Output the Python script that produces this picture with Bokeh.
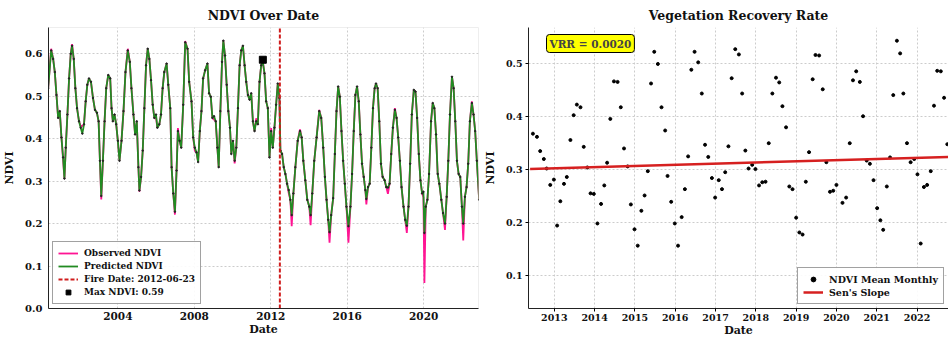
from bokeh.plotting import figure
from bokeh.layouts import row
from bokeh.models import Range1d, Legend, LegendItem, Label, NumeralTickFormatter, FixedTicker
from bokeh.embed import file_html
from bokeh.resources import INLINE

# ---------------- data: left panel (decimal years) ----------------
dates = [
    2000.353, 2000.509, 2000.613, 2000.700, 2000.787, 2000.874, 2000.960, 2001.047, 2001.134, 2001.204,
    2001.273, 2001.360, 2001.447, 2001.533, 2001.603, 2001.690, 2001.776, 2001.863, 2001.967, 2002.054,
    2002.141, 2002.228, 2002.315, 2002.401, 2002.488, 2002.592, 2002.697, 2002.801, 2002.905, 2002.992,
    2003.061, 2003.131, 2003.217, 2003.304, 2003.391, 2003.495, 2003.599, 2003.669, 2003.738, 2003.825,
    2003.912, 2003.999, 2004.085, 2004.190, 2004.294, 2004.398, 2004.519, 2004.624, 2004.710, 2004.815,
    2004.901, 2004.988, 2005.075, 2005.127, 2005.214, 2005.301, 2005.387, 2005.474, 2005.561, 2005.648,
    2005.735, 2005.822, 2005.908, 2005.995, 2006.065, 2006.169, 2006.256, 2006.342, 2006.429, 2006.551,
    2006.637, 2006.742, 2006.811, 2006.898, 2006.985, 2007.071, 2007.141, 2007.228, 2007.315, 2007.419,
    2007.523, 2007.644, 2007.731, 2007.853, 2007.940, 2008.026, 2008.113, 2008.200, 2008.287, 2008.374,
    2008.460, 2008.565, 2008.686, 2008.773, 2008.860, 2008.947, 2009.033, 2009.120, 2009.207, 2009.276,
    2009.363, 2009.450, 2009.519, 2009.606, 2009.693, 2009.780, 2009.867, 2009.936, 2010.023, 2010.110,
    2010.197, 2010.283, 2010.370, 2010.457, 2010.544, 2010.630, 2010.717, 2010.804, 2010.891, 2010.978,
    2011.065, 2011.151, 2011.238, 2011.325, 2011.412, 2011.499, 2011.585, 2011.672, 2011.759, 2011.846,
    2011.933, 2012.019, 2012.106, 2012.193, 2012.280, 2012.367, 2012.453, 2012.505, 2012.592, 2012.679,
    2012.766, 2012.853, 2012.939, 2013.026, 2013.096, 2013.183, 2013.287, 2013.408, 2013.530, 2013.617,
    2013.704, 2013.808, 2013.912, 2014.016, 2014.085, 2014.172, 2014.276, 2014.398, 2014.537, 2014.641,
    2014.745, 2014.832, 2014.919, 2015.006, 2015.075, 2015.162, 2015.266, 2015.353, 2015.440, 2015.526,
    2015.613, 2015.700, 2015.787, 2015.874, 2015.960, 2016.065, 2016.169, 2016.255, 2016.342, 2016.429,
    2016.516, 2016.603, 2016.690, 2016.776, 2016.863, 2016.950, 2017.002, 2017.089, 2017.176, 2017.263,
    2017.349, 2017.436, 2017.506, 2017.592, 2017.679, 2017.766, 2017.853, 2017.957, 2018.044, 2018.130,
    2018.217, 2018.304, 2018.391, 2018.495, 2018.582, 2018.669, 2018.756, 2018.842, 2018.947, 2019.034,
    2019.120, 2019.207, 2019.294, 2019.381, 2019.485, 2019.572, 2019.659, 2019.745, 2019.832, 2019.919,
    2019.988, 2020.040, 2020.110, 2020.197, 2020.283, 2020.387, 2020.474, 2020.561, 2020.648, 2020.734,
    2020.821, 2020.926, 2021.012, 2021.117, 2021.204, 2021.290, 2021.377, 2021.481, 2021.568, 2021.655,
    2021.742, 2021.829, 2021.915, 2022.002, 2022.072, 2022.159, 2022.245, 2022.332, 2022.419, 2022.523,
    2022.610, 2022.696, 2022.783, 2022.905,
]
predicted_ndvi = [
    0.519, 0.608, 0.588, 0.557, 0.503, 0.449, 0.465, 0.403, 0.356, 0.306,
    0.379, 0.457, 0.542, 0.600, 0.619, 0.588, 0.519, 0.472, 0.441, 0.426,
    0.412, 0.434, 0.488, 0.527, 0.542, 0.534, 0.496, 0.468, 0.461, 0.441,
    0.348, 0.265, 0.348, 0.441, 0.519, 0.550, 0.542, 0.472, 0.441, 0.457,
    0.434, 0.395, 0.348, 0.395, 0.465, 0.557, 0.608, 0.581, 0.519, 0.457,
    0.410, 0.441, 0.333, 0.278, 0.310, 0.372, 0.472, 0.573, 0.612, 0.588,
    0.538, 0.480, 0.449, 0.457, 0.426, 0.434, 0.457, 0.519, 0.557, 0.577,
    0.527, 0.472, 0.333, 0.271, 0.228, 0.325, 0.418, 0.395, 0.379, 0.480,
    0.627, 0.612, 0.534, 0.488, 0.403, 0.379, 0.368, 0.345, 0.418, 0.465,
    0.542, 0.561, 0.577, 0.507, 0.499, 0.449, 0.453, 0.441, 0.379, 0.333,
    0.465, 0.581, 0.631, 0.596, 0.527, 0.465, 0.426, 0.364, 0.395, 0.348,
    0.379, 0.472, 0.573, 0.608, 0.619, 0.573, 0.534, 0.503, 0.492, 0.507,
    0.441, 0.418, 0.441, 0.434, 0.534, 0.573, 0.581, 0.554, 0.488, 0.472,
    0.356, 0.418, 0.379, 0.426, 0.480, 0.530, 0.496, 0.372, 0.364, 0.333,
    0.317, 0.294, 0.279, 0.256, 0.220, 0.271, 0.333, 0.395, 0.418, 0.403,
    0.348, 0.302, 0.256, 0.240, 0.220, 0.271, 0.348, 0.403, 0.465, 0.449,
    0.379, 0.310, 0.256, 0.209, 0.180, 0.220, 0.260, 0.364, 0.465, 0.523,
    0.499, 0.418, 0.348, 0.294, 0.240, 0.194, 0.240, 0.317, 0.418, 0.503,
    0.523, 0.488, 0.410, 0.341, 0.310, 0.279, 0.258, 0.286, 0.294, 0.379,
    0.472, 0.519, 0.530, 0.519, 0.441, 0.341, 0.310, 0.302, 0.286, 0.285,
    0.294, 0.364, 0.426, 0.468, 0.449, 0.403, 0.348, 0.286, 0.240, 0.209,
    0.195, 0.240, 0.341, 0.457, 0.515, 0.511, 0.449, 0.364, 0.302, 0.271,
    0.275, 0.178, 0.240, 0.256, 0.317, 0.441, 0.484, 0.472, 0.410, 0.317,
    0.294, 0.256, 0.225, 0.200, 0.263, 0.348, 0.457, 0.546, 0.519, 0.441,
    0.348, 0.317, 0.310, 0.240, 0.200, 0.263, 0.286, 0.341, 0.441, 0.484,
    0.457, 0.418, 0.348, 0.256,
]
observed_ndvi = [
    0.519, 0.612, 0.588, 0.557, 0.503, 0.449, 0.465, 0.403, 0.350, 0.306,
    0.379, 0.457, 0.542, 0.600, 0.623, 0.588, 0.519, 0.472, 0.441, 0.430,
    0.430, 0.434, 0.488, 0.527, 0.542, 0.534, 0.496, 0.468, 0.461, 0.441,
    0.348, 0.257, 0.348, 0.441, 0.519, 0.550, 0.542, 0.472, 0.441, 0.457,
    0.434, 0.395, 0.348, 0.395, 0.465, 0.557, 0.612, 0.581, 0.519, 0.457,
    0.410, 0.441, 0.333, 0.275, 0.310, 0.372, 0.472, 0.573, 0.612, 0.588,
    0.538, 0.480, 0.449, 0.450, 0.426, 0.434, 0.457, 0.519, 0.557, 0.577,
    0.527, 0.472, 0.333, 0.271, 0.221, 0.325, 0.425, 0.395, 0.379, 0.480,
    0.630, 0.612, 0.534, 0.488, 0.403, 0.372, 0.368, 0.345, 0.418, 0.465,
    0.542, 0.561, 0.577, 0.507, 0.499, 0.449, 0.445, 0.441, 0.379, 0.333,
    0.465, 0.581, 0.631, 0.596, 0.527, 0.465, 0.426, 0.364, 0.395, 0.342,
    0.379, 0.472, 0.573, 0.608, 0.619, 0.573, 0.534, 0.503, 0.492, 0.507,
    0.441, 0.418, 0.448, 0.434, 0.534, 0.573, 0.581, 0.554, 0.488, 0.472,
    0.356, 0.425, 0.379, 0.426, 0.480, 0.530, 0.496, 0.372, 0.364, 0.333,
    0.317, 0.294, 0.272, 0.256, 0.194, 0.271, 0.333, 0.395, 0.422, 0.403,
    0.348, 0.302, 0.256, 0.240, 0.196, 0.271, 0.348, 0.403, 0.468, 0.449,
    0.379, 0.310, 0.256, 0.209, 0.155, 0.220, 0.260, 0.364, 0.465, 0.523,
    0.499, 0.418, 0.348, 0.294, 0.240, 0.155, 0.240, 0.317, 0.418, 0.503,
    0.523, 0.488, 0.410, 0.341, 0.310, 0.279, 0.245, 0.286, 0.294, 0.379,
    0.472, 0.519, 0.530, 0.519, 0.441, 0.341, 0.310, 0.302, 0.286, 0.270,
    0.294, 0.364, 0.426, 0.472, 0.449, 0.403, 0.348, 0.286, 0.240, 0.209,
    0.178, 0.240, 0.341, 0.457, 0.515, 0.511, 0.449, 0.364, 0.302, 0.271,
    0.262, 0.060, 0.240, 0.256, 0.317, 0.441, 0.484, 0.472, 0.410, 0.317,
    0.294, 0.256, 0.225, 0.185, 0.263, 0.348, 0.457, 0.546, 0.519, 0.441,
    0.348, 0.317, 0.310, 0.240, 0.160, 0.263, 0.286, 0.341, 0.441, 0.488,
    0.457, 0.418, 0.348, 0.256,
]
fire_date = 2012.476          # 2012-06-23
fire_label = "Fire Date: 2012-06-23"
max_date = 2011.585
max_ndvi = 0.586
max_label = "Max NDVI: 0.59"
left_xticks = [2004, 2008, 2012, 2016, 2020]
ndvi_ticks_left = [0.0, 0.1, 0.2, 0.3, 0.4, 0.5, 0.6]
left_ylim = [0.0, 0.662]

# ---------------- data: right panel ----------------
monthly_dates = [
    2012.47, 2012.57, 2012.65, 2012.74, 2012.81, 2012.90, 2012.99, 2013.07, 2013.15, 2013.24,
    2013.31, 2013.40, 2013.48, 2013.56, 2013.65, 2013.73, 2013.82, 2013.90, 2013.98, 2014.07,
    2014.16, 2014.24, 2014.31, 2014.39, 2014.48, 2014.57, 2014.65, 2014.73, 2014.82, 2014.90,
    2014.99, 2015.07, 2015.16, 2015.24, 2015.32, 2015.40, 2015.48, 2015.57, 2015.66, 2015.75,
    2015.81, 2015.90, 2015.99, 2016.07, 2016.16, 2016.24, 2016.32, 2016.40, 2016.48, 2016.57,
    2016.66, 2016.74, 2016.82, 2016.91, 2016.99, 2017.08, 2017.16, 2017.24, 2017.32, 2017.40,
    2017.49, 2017.58, 2017.66, 2017.74, 2017.82, 2017.91, 2017.99, 2018.08, 2018.16, 2018.24,
    2018.32, 2018.41, 2018.50, 2018.58, 2018.66, 2018.75, 2018.83, 2018.91, 2019.00, 2019.08,
    2019.16, 2019.24, 2019.32, 2019.41, 2019.48, 2019.57, 2019.66, 2019.75, 2019.84, 2019.92,
    2020.00, 2020.15, 2020.24, 2020.33, 2020.41, 2020.49, 2020.58, 2020.66, 2020.75, 2020.83,
    2020.92, 2021.01, 2021.09, 2021.16, 2021.25, 2021.33, 2021.41, 2021.50, 2021.58, 2021.66,
    2021.75, 2021.84, 2021.93, 2022.01, 2022.09, 2022.17, 2022.25, 2022.34, 2022.42, 2022.50,
    2022.59, 2022.67, 2022.75,
]
monthly_ndvi = [
    0.368, 0.362, 0.335, 0.320, 0.302, 0.271, 0.281, 0.194, 0.240, 0.273,
    0.286, 0.356, 0.403, 0.423, 0.418, 0.343, 0.304, 0.255, 0.254, 0.198,
    0.235, 0.270, 0.313, 0.396, 0.467, 0.466, 0.418, 0.340, 0.306, 0.234,
    0.187, 0.156, 0.222, 0.251, 0.297, 0.463, 0.523, 0.500, 0.418, 0.374,
    0.288, 0.239, 0.198, 0.156, 0.210, 0.263, 0.325, 0.489, 0.523, 0.503,
    0.444, 0.347, 0.324, 0.284, 0.247, 0.280, 0.263, 0.295, 0.344, 0.473,
    0.528, 0.518, 0.444, 0.336, 0.302, 0.309, 0.301, 0.270, 0.276, 0.277,
    0.350, 0.444, 0.474, 0.465, 0.420, 0.380, 0.268, 0.263, 0.209, 0.181,
    0.177, 0.277, 0.333, 0.471, 0.517, 0.516, 0.452, 0.314, 0.258, 0.260,
    0.271, 0.237, 0.247, 0.350, 0.469, 0.486, 0.466, 0.401, 0.317, 0.311,
    0.280, 0.227, 0.204, 0.186, 0.268, 0.323, 0.441, 0.544, 0.520, 0.444,
    0.350, 0.314, 0.320, 0.291, 0.160, 0.267, 0.271, 0.297, 0.421, 0.487,
    0.486, 0.436, 0.348,
]
sen_dates = [2012.40, 2022.79]
sen_ndvi = [0.301, 0.324]
vrr_text = "VRR = 0.0020"
right_xticks = [2013, 2014, 2015, 2016, 2017, 2018, 2019, 2020, 2021, 2022]
ndvi_ticks_right = [0.1, 0.2, 0.3, 0.4, 0.5]

FONT = "DejaVu Serif"
GRID = "#cccccc"


def style_common(p, tick_size_x, tick_size_y):
    p.title.text_font = FONT
    p.title.text_font_style = "bold"
    p.title.text_font_size = "12.5px"
    p.title.align = "center"
    p.title.text_color = "#111111"
    p.title.offset = 0
    for ax in (p.xaxis[0], p.yaxis[0]):
        ax.axis_label_text_font = FONT
        ax.axis_label_text_font_style = "bold"
        ax.axis_label_text_font_size = "11px"
        ax.axis_label_text_color = "#111111"
        ax.major_label_text_font = FONT
        ax.major_label_text_font_style = "bold"
        ax.major_label_text_color = "#111111"
        ax.minor_tick_line_color = None
        ax.axis_line_color = "#222222"
    p.xaxis.major_label_text_font_size = tick_size_x
    p.yaxis.major_label_text_font_size = tick_size_y
    p.xaxis.axis_label = "Date"
    p.yaxis.axis_label = "NDVI"
    p.xaxis.axis_label_standoff = 0
    p.yaxis.axis_label_standoff = 6
    p.xgrid.grid_line_color = GRID
    p.ygrid.grid_line_color = GRID
    p.xgrid.grid_line_dash = "2 2"
    p.ygrid.grid_line_dash = "2 2"
    p.outline_line_color = "#eeeeee"
    p.background_fill_color = "white"
    p.border_fill_color = "white"


# ---------------- left figure ----------------
p1 = figure(width=480, height=339, x_range=Range1d(2000.37, 2022.87),
            y_range=Range1d(left_ylim[0], left_ylim[1]),
            output_backend="svg", toolbar_location=None, title="NDVI Over Date",
            min_border_left=46, min_border_right=2, min_border_top=25, min_border_bottom=29)
style_common(p1, "10.5px", "10px")
p1.xaxis.ticker = FixedTicker(ticks=left_xticks)
p1.yaxis.ticker = FixedTicker(ticks=ndvi_ticks_left)
p1.yaxis.formatter = NumeralTickFormatter(format="0.0")
p1.xaxis.major_tick_out = 0
p1.xaxis.major_tick_in = 0
p1.yaxis.major_tick_out = 0
p1.yaxis.major_tick_in = 0
p1.xaxis.major_label_standoff = 3
p1.yaxis.major_label_standoff = 6

r_obs = p1.line(dates, observed_ndvi, line_color="#ff1493", line_width=1.8)
r_pred = p1.line(dates, predicted_ndvi, line_color="#228b22", line_width=1.8)
p1.scatter(dates, predicted_ndvi, size=1.5, color="#222222")
r_fire = p1.line([fire_date, fire_date], left_ylim, line_color="#d01c1c",
                 line_dash="4 2", line_width=2)
r_max = p1.scatter([max_date], [max_ndvi], marker="square", size=7, color="black")

leg1 = Legend(items=[LegendItem(label="Observed NDVI", renderers=[r_obs]),
                     LegendItem(label="Predicted NDVI", renderers=[r_pred]),
                     LegendItem(label=fire_label, renderers=[r_fire]),
                     LegendItem(label=max_label, renderers=[r_max])],
              location="bottom_left")
p1.add_layout(leg1)

# ---------------- right figure ----------------
p2 = figure(width=468, height=339, x_range=Range1d(2012.36, 2022.78), y_range=Range1d(0.037, 0.569),
            output_backend="svg", toolbar_location=None, title="Vegetation Recovery Rate",
            min_border_left=45, min_border_right=0, min_border_top=25, min_border_bottom=29)
style_common(p2, "9.5px", "9.5px")
p2.xaxis.ticker = FixedTicker(ticks=right_xticks)
p2.yaxis.ticker = FixedTicker(ticks=ndvi_ticks_right)
p2.yaxis.formatter = NumeralTickFormatter(format="0.0")
p2.xaxis.major_tick_out = 3
p2.xaxis.major_tick_in = 0
p2.yaxis.major_tick_out = 3
p2.yaxis.major_tick_in = 0
p2.xaxis.major_label_standoff = 2
p2.yaxis.major_label_standoff = 3
p2.outline_line_color = None

r_pts = p2.scatter(monthly_dates, monthly_ndvi, size=3, color="black")
r_sen = p2.line(sen_dates, sen_ndvi, line_color="#d62020", line_width=2.5)

vrr = Label(x=18, y=274, x_units="screen", y_units="screen", text=vrr_text,
            text_font=FONT, text_font_style="bold", text_font_size="10.5px",
            text_baseline="top", background_fill_color="#ffff00",
            border_line_color="black", border_line_width=1, padding=3, border_radius=3)
p2.add_layout(vrr)

leg2 = Legend(items=[LegendItem(label="NDVI Mean Monthly", renderers=[r_pts]),
                     LegendItem(label="Sen's Slope", renderers=[r_sen])],
              location="bottom_right")
p2.add_layout(leg2)

for lg in (leg1, leg2):
    lg.label_text_font = FONT
    lg.label_text_font_style = "bold"
    lg.label_text_color = "#111111"
    lg.glyph_width = 20
    lg.glyph_height = 12
    lg.label_height = 12
    lg.label_standoff = 6
    lg.spacing = 1
    lg.padding = 5
    lg.margin = 4
    lg.border_line_color = "#444444"
    lg.border_line_width = 1.2
    lg.background_fill_alpha = 0.9
leg1.label_text_font_size = "9px"
leg2.label_text_font_size = "9.5px"

layout = row(p1, p2)
open("out.html", "w").write(file_html(layout, INLINE))
